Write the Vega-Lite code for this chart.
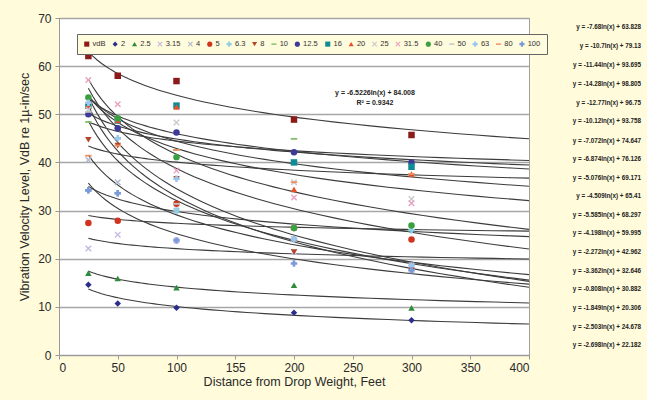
{
  "$schema": "https://vega.github.io/schema/vega-lite/v6.json",
  "width": 470,
  "height": 337,
  "autosize": {"type": "none"},
  "padding": {"left": 59, "top": 18, "right": 118, "bottom": 45},
  "background": "#FFFBDB",
  "config": {
    "font": "Liberation Sans",
    "view": {"fill": "white", "stroke": "#A0A0A0", "strokeWidth": 1},
    "axis": {"labelFontSize": 12, "labelColor": "#2a2a2a", "titleFontSize": 12.5, "titleFontWeight": "normal", "titleColor": "#2a2a2a", "domainColor": "#999", "tickColor": "#999"},
    "legend": {
      "orient": "none", "legendX": 18, "legendY": 16, "direction": "horizontal", "columns": 19,
      "fillColor": "#FFFBDD", "strokeColor": "#666", "padding": 6, "labelFontSize": 7.5, "labelColor": "#333",
      "symbolSize": 26, "columnPadding": 5.4, "labelOffset": 2, "symbolStrokeWidth": 0
    }
  },
  "datasets": {
    "points": [
      {"series": "vdB", "x": 25, "y": 62.1}, {"series": "vdB", "x": 50, "y": 58.0}, {"series": "vdB", "x": 100, "y": 56.9}, {"series": "vdB", "x": 200, "y": 48.9}, {"series": "vdB", "x": 300, "y": 45.7},
      {"series": "2", "x": 25, "y": 14.6}, {"series": "2", "x": 50, "y": 10.7}, {"series": "2", "x": 100, "y": 9.8}, {"series": "2", "x": 200, "y": 8.8}, {"series": "2", "x": 300, "y": 7.2},
      {"series": "2.5", "x": 25, "y": 17.0}, {"series": "2.5", "x": 50, "y": 15.9}, {"series": "2.5", "x": 100, "y": 14.0}, {"series": "2.5", "x": 200, "y": 14.5}, {"series": "2.5", "x": 300, "y": 9.8},
      {"series": "3.15", "x": 25, "y": 22.1}, {"series": "3.15", "x": 50, "y": 25.0}, {"series": "3.15", "x": 100, "y": 23.8}, {"series": "3.15", "x": 200, "y": 21.4}, {"series": "3.15", "x": 300, "y": 18.6},
      {"series": "4", "x": 25, "y": 40.5}, {"series": "4", "x": 50, "y": 35.9}, {"series": "4", "x": 100, "y": 30.0}, {"series": "4", "x": 200, "y": 24.1}, {"series": "4", "x": 300, "y": 17.6},
      {"series": "5", "x": 25, "y": 27.4}, {"series": "5", "x": 50, "y": 27.9}, {"series": "5", "x": 100, "y": 31.4}, {"series": "5", "x": 200, "y": 26.4}, {"series": "5", "x": 300, "y": 24.0},
      {"series": "6.3", "x": 25, "y": 34.2}, {"series": "6.3", "x": 50, "y": 33.6}, {"series": "6.3", "x": 100, "y": 30.0}, {"series": "6.3", "x": 200, "y": 26.4}, {"series": "6.3", "x": 300, "y": 25.9},
      {"series": "8", "x": 25, "y": 44.7}, {"series": "8", "x": 50, "y": 43.5}, {"series": "8", "x": 100, "y": 36.6}, {"series": "8", "x": 200, "y": 21.4}, {"series": "8", "x": 300, "y": 17.6},
      {"series": "10", "x": 25, "y": 48.4}, {"series": "10", "x": 50, "y": 47.1}, {"series": "10", "x": 100, "y": 42.6}, {"series": "10", "x": 200, "y": 44.9}, {"series": "10", "x": 300, "y": 40.0},
      {"series": "12.5", "x": 25, "y": 50.0}, {"series": "12.5", "x": 50, "y": 47.1}, {"series": "12.5", "x": 100, "y": 46.2}, {"series": "12.5", "x": 200, "y": 42.1}, {"series": "12.5", "x": 300, "y": 40.0},
      {"series": "16", "x": 25, "y": 51.8}, {"series": "16", "x": 50, "y": 48.7}, {"series": "16", "x": 100, "y": 51.8}, {"series": "16", "x": 200, "y": 40.0}, {"series": "16", "x": 300, "y": 39.1},
      {"series": "20", "x": 25, "y": 51.8}, {"series": "20", "x": 50, "y": 48.7}, {"series": "20", "x": 100, "y": 51.5}, {"series": "20", "x": 200, "y": 34.4}, {"series": "20", "x": 300, "y": 37.6},
      {"series": "25", "x": 25, "y": 51.0}, {"series": "25", "x": 50, "y": 49.2}, {"series": "25", "x": 100, "y": 48.3}, {"series": "25", "x": 200, "y": 35.9}, {"series": "25", "x": 300, "y": 32.4},
      {"series": "31.5", "x": 25, "y": 57.1}, {"series": "31.5", "x": 50, "y": 52.1}, {"series": "31.5", "x": 100, "y": 38.3}, {"series": "31.5", "x": 200, "y": 32.7}, {"series": "31.5", "x": 300, "y": 31.5},
      {"series": "40", "x": 25, "y": 53.5}, {"series": "40", "x": 50, "y": 49.2}, {"series": "40", "x": 100, "y": 41.1}, {"series": "40", "x": 200, "y": 26.4}, {"series": "40", "x": 300, "y": 26.9},
      {"series": "50", "x": 25, "y": 50.5}, {"series": "50", "x": 50, "y": 45.0}, {"series": "50", "x": 100, "y": 31.4}, {"series": "50", "x": 200, "y": 24.1}, {"series": "50", "x": 300, "y": 17.6},
      {"series": "63", "x": 25, "y": 52.4}, {"series": "63", "x": 50, "y": 45.0}, {"series": "63", "x": 100, "y": 36.6}, {"series": "63", "x": 200, "y": 24.1}, {"series": "63", "x": 300, "y": 18.6},
      {"series": "80", "x": 25, "y": 41.4}, {"series": "80", "x": 50, "y": 43.5}, {"series": "80", "x": 100, "y": 42.6}, {"series": "80", "x": 200, "y": 35.9}, {"series": "80", "x": 300, "y": 37.6},
      {"series": "100", "x": 25, "y": 34.2}, {"series": "100", "x": 50, "y": 33.6}, {"series": "100", "x": 100, "y": 23.8}, {"series": "100", "x": 200, "y": 19.0}, {"series": "100", "x": 300, "y": 17.6}
    ],
    "eqs": [
      {"x": 495.3, "y": 68.13, "t": "y = -7.68ln(x) + 63.828"},
      {"x": 495.3, "y": 64.18, "t": "y = -10.7ln(x) + 79.13"},
      {"x": 495.3, "y": 60.24, "t": "y = -11.44ln(x) + 93.695"},
      {"x": 495.3, "y": 56.29, "t": "y = -14.28ln(x) + 98.805"},
      {"x": 495.3, "y": 52.34, "t": "y = -12.77ln(x) + 96.75"},
      {"x": 495.3, "y": 48.61, "t": "y = -10.12ln(x) + 93.758"},
      {"x": 495.3, "y": 44.45, "t": "y = -7.072ln(x) + 74.647"},
      {"x": 495.3, "y": 40.71, "t": "y = -6.874ln(x) + 76.126"},
      {"x": 495.3, "y": 36.77, "t": "y = -5.076ln(x) + 69.171"},
      {"x": 495.3, "y": 33.03, "t": "y = -4.509ln(x) + 65.41"},
      {"x": 495.3, "y": 29.08, "t": "y = -5.585ln(x) + 68.297"},
      {"x": 495.3, "y": 25.34, "t": "y = -4.198ln(x) + 59.995"},
      {"x": 495.3, "y": 21.40, "t": "y = -2.272ln(x) + 42.962"},
      {"x": 495.3, "y": 17.45, "t": "y = -3.362ln(x) + 32.646"},
      {"x": 495.3, "y": 13.71, "t": "y = -0.808ln(x) + 30.882"},
      {"x": 495.3, "y": 9.76, "t": "y = -1.849ln(x) + 20.306"},
      {"x": 495.3, "y": 5.82, "t": "y = -2.503ln(x) + 24.678"},
      {"x": 495.3, "y": 2.08, "t": "y = -2.698ln(x) + 22.182"}
    ],
    "fit": [
      {"x": 268.9, "y": 54.42, "t": "y = -6.5226ln(x) + 84.008"},
      {"x": 268.9, "y": 52.34, "t": "R² = 0.9342"}
    ]
  },
  "layer": [
    {
      "data": {"name": "points"},
      "transform": [{"regression": "y", "on": "x", "groupby": ["series"], "method": "log", "extent": [25, 400]}],
      "mark": {"type": "line", "color": "#3c3c3c", "strokeWidth": 1.1, "clip": true},
      "encoding": {
        "x": {"field": "x", "type": "quantitative", "scale": {"domain": [0, 400], "nice": false}},
        "y": {"field": "y", "type": "quantitative", "scale": {"domain": [0, 70], "nice": false}},
        "detail": {"field": "series"}
      }
    },
    {
      "data": {"name": "points"},
      "mark": {"type": "point", "filled": true, "opacity": 1, "size": 42, "strokeWidth": 0},
      "encoding": {
        "x": {
          "field": "x", "type": "quantitative", "scale": {"domain": [0, 400], "nice": false},
          "axis": {"values": [0, 50, 100, 150, 200, 250, 300, 350, 400], "labelExpr": "datum.value === 150 ? '155' : datum.label", "grid": false, "tickSize": 4, "labelPadding": 3, "title": "Distance from Drop Weight, Feet", "titlePadding": 2}
        },
        "y": {
          "field": "y", "type": "quantitative", "scale": {"domain": [0, 70], "nice": false},
          "axis": {"values": [0, 5, 10, 15, 20, 25, 30, 35, 40, 45, 50, 55, 60, 65, 70], "labelExpr": "datum.value % 10 === 0 ? datum.label : ''", "grid": true, "gridColor": "#A6A6A6", "gridWidth": 1.6, "tickSize": 4, "labelPadding": 4, "title": "Vibration Velocity Level, VdB re 1µ-in/sec", "titlePadding": 6}
        },
        "color": {
          "field": "series", "type": "nominal", "title": null,
          "scale": {
            "domain": ["vdB", "2", "2.5", "3.15", "4", "5", "6.3", "8", "10", "12.5", "16", "20", "25", "31.5", "40", "50", "63", "80", "100"],
            "range": ["#8B1A1A", "#2B2D8C", "#2E8B3A", "#C4B8E0", "#AEB8CC", "#D0341F", "#8ED0E4", "#B5452A", "#86BE6E", "#3D3A9A", "#0E8C95", "#E8502A", "#C8C8D0", "#E8A0C0", "#3AA040", "#C4C4C4", "#9CC6EC", "#F09060", "#7C9AD8"]
          }
        },
        "shape": {
          "field": "series", "type": "nominal", "title": null,
          "scale": {
            "domain": ["vdB", "2", "2.5", "3.15", "4", "5", "6.3", "8", "10", "12.5", "16", "20", "25", "31.5", "40", "50", "63", "80", "100"],
            "range": ["square", "diamond", "triangle-up", "M-1,-0.7L-0.7,-1L1,0.7L0.7,1Z M0.7,-1L1,-0.7L-0.7,1L-1,0.7Z", "M-1,-0.7L-0.7,-1L1,0.7L0.7,1Z M0.7,-1L1,-0.7L-0.7,1L-1,0.7Z", "circle", "cross", "triangle-down", "M-1,-0.28L1,-0.28L1,0.28L-1,0.28Z", "circle", "square", "triangle-up", "M-1,-0.7L-0.7,-1L1,0.7L0.7,1Z M0.7,-1L1,-0.7L-0.7,1L-1,0.7Z", "M-1,-0.7L-0.7,-1L1,0.7L0.7,1Z M0.7,-1L1,-0.7L-0.7,1L-1,0.7Z", "circle", "M-1,-0.28L1,-0.28L1,0.28L-1,0.28Z", "cross", "M-1,-0.28L1,-0.28L1,0.28L-1,0.28Z", "cross"]
          }
        }
      }
    },
    {
      "data": {"name": "eqs"},
      "mark": {"type": "text", "align": "right", "baseline": "middle", "fontSize": 6.3, "fontWeight": "bold", "color": "#222", "font": "Liberation Sans"},
      "encoding": {
        "x": {"field": "x", "type": "quantitative"},
        "y": {"field": "y", "type": "quantitative"},
        "text": {"field": "t"}
      }
    },
    {
      "data": {"name": "fit"},
      "mark": {"type": "text", "align": "center", "baseline": "middle", "fontSize": 7, "fontWeight": "bold", "color": "#222"},
      "encoding": {
        "x": {"field": "x", "type": "quantitative"},
        "y": {"field": "y", "type": "quantitative"},
        "text": {"field": "t"}
      }
    }
  ]
}
